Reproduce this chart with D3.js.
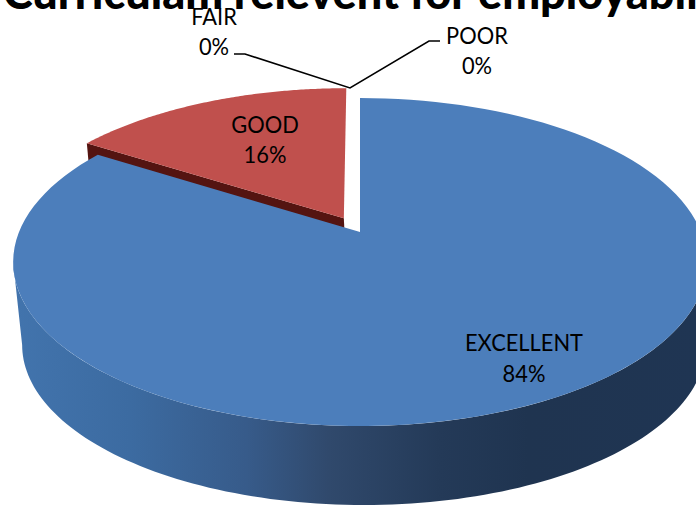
<!DOCTYPE html>
<html><head><meta charset="utf-8">
<script src="https://cdnjs.cloudflare.com/ajax/libs/d3/7.8.5/d3.min.js"></script>
<style>html,body{margin:0;padding:0;background:#fff;overflow:hidden}svg{display:block}text{font-family:Lato,"Open Sans",sans-serif}</style>
</head><body><div id="c"></div>
<script>
const titleText = "Curriculam relevent for employability";
const categories = ["EXCELLENT","GOOD","FAIR","POOR"];
const values = [84,16,0,0];
const sliceColors = ["#4c7ebb","#c0504d",null,null];
const sideColors = ["url(#blueSide)","#541411",null,null];
const explode = [0,0.1,0,0];
const labelAnchors = [[524,351],[265,133],[214,25],[477,44]];
const labelGaps = [31,30,30,30];
const labelColor = "#000";

const W=696,H=506;
const svg=d3.select("#c").append("svg").attr("width",W).attr("height",H);
const grad=svg.append("defs").append("linearGradient").attr("id","blueSide")
  .attr("gradientUnits","userSpaceOnUse").attr("x1",13).attr("x2",700).attr("y1",0).attr("y2",0);
[[0,"#4274ad"],[0.17,"#3c6ba1"],[0.34,"#375b8a"],[0.46,"#30496c"],[0.62,"#243a58"],[0.75,"#1f3450"],[1,"#1f3553"]]
 .forEach(s=>grad.append("stop").attr("offset",s[0]).attr("stop-color",s[1]));

// perspective projection of the pie disc
const k=-0.183;
const sx=d3.scaleLinear().domain([-1,1]).range([360-341,360+341]);
const sy=d3.scaleLinear().domain([-1,1]).range([232-158.5,232+158.5]);
const bx=d3.scaleLinear().domain([360-347,360+347]).range([364-342,364+342]);
const by=d3.scaleLinear().domain([98,426]).range([185,505]);
function project(a,r,d,mid){
  let u=r*Math.sin(a),v=-r*Math.cos(a);
  if(d){u+=d*Math.sin(mid);v+=-d*Math.cos(mid);}
  const w=1+k*v;
  return [sx(u/w),sy(v/w)];
}
const low=p=>[bx(p[0]),by(p[1])];
const line=d3.line();
const arcs=d3.pie().sort(null).value(d=>d)(values);
const rimPts=(a0,a1,d,mid)=>d3.range(0,121).map(i=>project(a0+(a1-a0)*i/120,1,d,mid));

const g=svg.append("g").style("filter","blur(0.6px)");
const order=[1,0];
order.forEach(i=>{
  const a=arcs[i],mid=(a.startAngle+a.endAngle)/2,d=explode[i];
  if(i===0){
    // outer wall of the front of the pie
    const tA=Math.acos(k);
    const rim=rimPts(tA,2*Math.PI-tA,d,mid);
    g.append("path").attr("d",line(rim.concat(rim.map(low).reverse()))+"Z").attr("fill",sideColors[i]);
  }else{
    // cut wall
    const c=project(0,0,d,mid),e=project(a.startAngle,1,d,mid);
    g.append("path").attr("d",line([e,c,low(c),low(e)])+"Z").attr("fill",sideColors[i]);
  }
  const face=[project(0,0,d,mid)].concat(rimPts(a.startAngle,a.endAngle,d,mid));
  g.append("path").attr("d",line(face)+"Z").attr("fill",sliceColors[i]);
});

// leaders
const hub=[350,88];
svg.append("path").attr("d",line([[234,54],[245,54],hub,[429,41],[440,41]]))
  .attr("fill","none").attr("stroke","#000").attr("stroke-width",1.6);

// title
svg.append("text").text(titleText).attr("x",3).attr("y",9).attr("font-size",45).attr("font-weight",900).attr("fill","#000");

// labels
categories.forEach((c,i)=>{
  const t=svg.append("text").attr("text-anchor","middle").attr("font-size",23).attr("fill",labelColor)
    .attr("transform",`translate(${labelAnchors[i][0]},${labelAnchors[i][1]}) scale(0.95,1)`);
  t.append("tspan").attr("x",0).attr("y",0).text(c);
  t.append("tspan").attr("x",0).attr("y",labelGaps[i]).text(values[i]+"%");
});
</script></body></html>
